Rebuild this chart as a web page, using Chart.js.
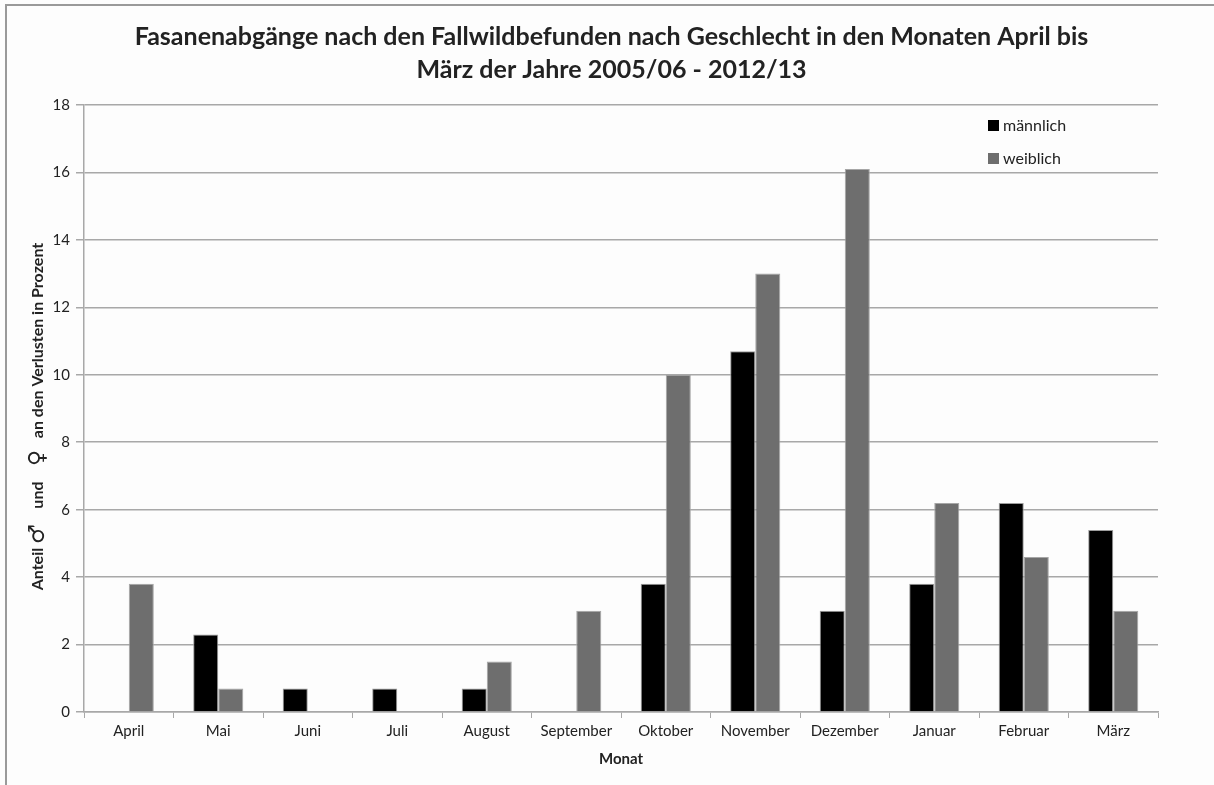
<!DOCTYPE html>
<html lang="de">
<head>
<meta charset="utf-8">
<title>Fasanenabgänge nach Geschlecht</title>
<script src="https://cdn.jsdelivr.net/npm/chart.js@4"></script>
<style>
  html, body { margin: 0; padding: 0; background: #fdfdfd; }
  #wrap {
    position: absolute;
    left: 5px; top: 4px;
    width: 1209px; height: 781px;
    border-left: 2px solid #9a9a9a;
    border-top: 2px solid #9a9a9a;
  }
</style>
</head>
<body>
<div id="wrap"><canvas id="chart"></canvas></div>
<script>
// Chart data
const months = ['April', 'Mai', 'Juni', 'Juli', 'August', 'September', 'Oktober', 'November', 'Dezember', 'Januar', 'Februar', 'März'];
const maennlich = [0, 2.3, 0.7, 0.7, 0.7, 0, 3.8, 10.7, 3.0, 3.8, 6.2, 5.4];
const weiblich = [3.8, 0.7, 0, 0, 1.5, 3.0, 10.0, 13.0, 16.1, 6.2, 4.6, 3.0];
const yTicks = [0, 2, 4, 6, 8, 10, 12, 14, 16, 18];

const FONT = 'Lato, "DejaVu Sans", sans-serif';
const GRID = '#a8a8a8';

// Legend drawn inside the plot area, top right
const innerLegend = {
  id: 'innerLegend',
  afterDraw(chart) {
    const ctx = chart.ctx;
    const area = chart.chartArea;
    const x = area.right - 170;
    let y = area.top + 21;
    ctx.save();
    ctx.font = '16px ' + FONT;
    ctx.textBaseline = 'middle';
    chart.data.datasets.forEach(ds => {
      ctx.fillStyle = ds.backgroundColor;
      ctx.fillRect(x, y - 6, 11, 11);
      ctx.fillStyle = '#222';
      ctx.fillText(ds.label, x + 15, y);
      y += 33;
    });
    ctx.restore();
  }
};

// Y axis title with the larger sex symbols
const yTitle = {
  id: 'yTitle',
  afterDraw(chart) {
    const ctx = chart.ctx;
    const area = chart.chartArea;
    const parts = [
      { t: 'Anteil ', f: 'bold 16px ' + FONT },
      { t: '♂', f: '22px "DejaVu Sans"' },
      { t: '    und    ', f: 'bold 16px ' + FONT },
      { t: '♀', f: '22px "DejaVu Sans"' },
      { t: '   an den Verlusten in Prozent', f: 'bold 16px ' + FONT }
    ];
    ctx.save();
    let total = 0;
    parts.forEach(p => { ctx.font = p.f; p.w = ctx.measureText(p.t).width; total += p.w; });
    ctx.translate(31, (area.top + area.bottom) / 2 + 8);
    ctx.rotate(-Math.PI / 2);
    ctx.fillStyle = '#222';
    ctx.textBaseline = 'middle';
    let x = -total / 2;
    parts.forEach(p => {
      ctx.font = p.f;
      ctx.fillText(p.t, x, 0);
      x += p.w;
    });
    ctx.restore();
  }
};

const ctx = document.getElementById('chart').getContext('2d');
new Chart(ctx, {
  type: 'bar',
  data: {
    labels: months,
    datasets: [
      {
        label: 'männlich',
        data: maennlich,
        backgroundColor: '#000000',
        borderColor: '#9c9c9c',
        borderWidth: 1,
        categoryPercentage: 0.56,
        barPercentage: 1.0
      },
      {
        label: 'weiblich',
        data: weiblich,
        backgroundColor: '#6e6e6e',
        borderColor: '#a6a6a6',
        borderWidth: 1,
        categoryPercentage: 0.56,
        barPercentage: 1.0
      }
    ]
  },
  options: {
    responsive: true,
    maintainAspectRatio: false,
    animation: false,
    layout: {
      padding: { left: 0, right: 0, top: 14, bottom: 15 }
    },
    plugins: {
      legend: { display: false },
      tooltip: { enabled: false },
      title: {
        display: true,
        text: ['Fasanenabgänge nach den Fallwildbefunden nach Geschlecht in den Monaten April bis',
               'März der Jahre 2005/06 - 2012/13'],
        color: '#222',
        font: { family: FONT, size: 25, weight: 'bold', lineHeight: 1.32 },
        padding: { top: 0, bottom: 19 }
      }
    },
    scales: {
      x: {
        grid: {
          display: true,
          offset: true,
          drawOnChartArea: false,
          tickLength: 6,
          color: GRID
        },
        border: { color: GRID, width: 1.5 },
        ticks: {
          color: '#222',
          font: { family: FONT, size: 15 },
          maxRotation: 0,
          padding: 4
        },
        title: {
          display: true,
          text: 'Monat',
          color: '#222',
          font: { family: FONT, size: 15, weight: 'bold' },
          padding: { top: 4 }
        },
        afterFit(scale) { scale.height = 60; }
      },
      y: {
        min: 0,
        max: 18,
        afterBuildTicks(scale) { scale.ticks = yTicks.map(v => ({ value: v })); },
        grid: {
          color: GRID,
          lineWidth: 1.5,
          tickLength: 8
        },
        border: { color: GRID, width: 1.5 },
        ticks: {
          color: '#222',
          font: { family: FONT, size: 15 },
          padding: 6
        },
        afterFit(scale) { scale.width = 77; }
      },
      // empty right axis, only keeps the margin on the right
      spacer: {
        position: 'right',
        display: true,
        grid: { display: false },
        border: { display: false },
        ticks: { display: false },
        afterFit(scale) { scale.width = 58; }
      }
    }
  },
  plugins: [innerLegend, yTitle]
});
</script>
</body>
</html>
